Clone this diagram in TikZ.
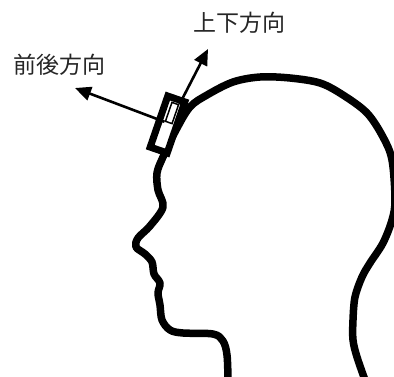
\documentclass[tikz,border=0pt]{standalone}
\usepackage{fontspec}
\newfontfamily\jpfont{Noto Sans CJK JP}
\usetikzlibrary{arrows.meta}

\begin{document}
\begin{tikzpicture}[x=1pt,y=-1pt]

\tikzset{sensore/.style={rectangle,draw,fill=white,line width=7pt,minimum width=18pt,minimum height=54pt,inner sep=0pt,rotate=-19},}
\tikzset{chip/.style={rectangle,draw,fill=white,line width=1.5pt,minimum width=7pt,minimum height=20pt,inner sep=0pt,rotate=-19},}
\tikzset{testo/.style={inner sep=0pt,text=black!85,font=\jpfont\fontsize{23}{23}\selectfont},}
\tikzset{freccia/.style={-{Triangle[length=16pt,width=14pt]},line width=2.6pt},}

\useasboundingbox (0,0) rectangle (394,376);
\clip (0,0) rectangle (394,376);

%TESTA
\draw[line width=7.5pt,line join=round] plot[smooth,tension=0.55] coordinates {
 (228,380) (227,355) (223,341) (213,334) (183,333) (170,330) (162,320)
 (160,305) (158,293) (160,283) (154,274) (152,262) (145,254) (136,247)
 (138,238) (150,226) (163,207) (158,190) (157,173) (163,157) (176,130)
 (190,107) (207,95) (233,82) (260,77) (290,78) (320,83) (343,95)
 (367,113) (383,137) (392,160) (395,200) (392,220) (383,243) (370,263)
 (362,277) (355,297) (353,320) (353,340) (357,357) (365,380)};

%SENSORE
\draw (167.5,124.5) node [sensore] (sens) {};
\draw (172,113) node [chip] (chip) {};

%FRECCE
\coordinate (su) at (208,49);
\coordinate (av) at (75,88);
\draw[freccia] (chip.north east) -- (su);
\draw[freccia] (chip.south west) -- (av);
\draw (239,23) node[testo] (l1) {上下方向};
\draw (59,65) node[testo] (l2) {前後方向};

\end{tikzpicture}
\end{document}
